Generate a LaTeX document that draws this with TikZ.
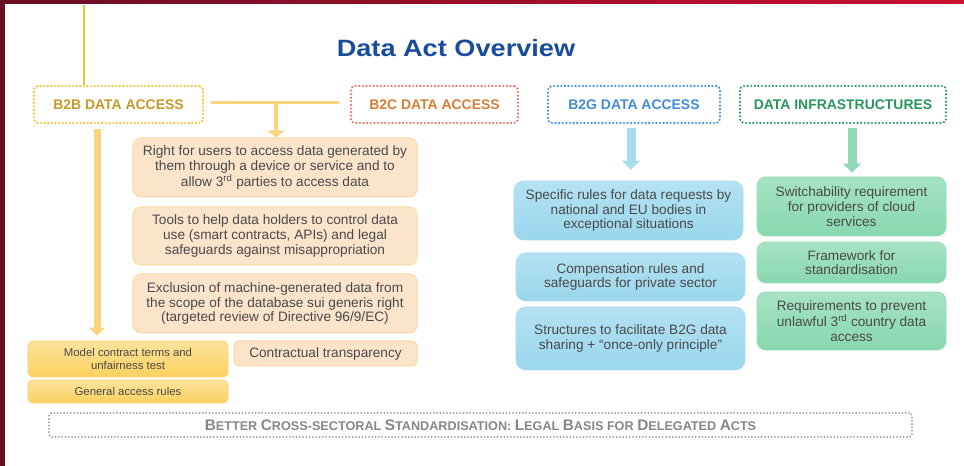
\documentclass[tikz,border=0pt]{standalone}
\usepackage{fontspec}
\setmainfont{Liberation Sans}
\newfontfamily\titlefam[FakeStretch=1.15]{Liberation Sans}
\usetikzlibrary{arrows.meta,calc}
\definecolor{frameA}{HTML}{6A0D22}
\definecolor{frameB}{HTML}{CC1030}
\definecolor{titleblue}{HTML}{1A4C9C}
\definecolor{bodytxt}{HTML}{4A4A4A}
\definecolor{ytxt}{HTML}{C49A28}
\definecolor{ybord}{HTML}{F6C12E}
\definecolor{ctxt}{HTML}{D67E34}
\definecolor{cbord}{HTML}{EE6F6A}
\definecolor{gtxt}{HTML}{438BD8}
\definecolor{gbord}{HTML}{3A8EE6}
\definecolor{itxt}{HTML}{27965F}
\definecolor{ibord}{HTML}{2A9960}
\definecolor{greytxt}{HTML}{878787}
\definecolor{greybord}{HTML}{9A9A9A}
\definecolor{ofill}{HTML}{FCE4CB}
\definecolor{obord}{HTML}{FBD9A3}
\definecolor{yfillA}{HTML}{FDE39C}
\definecolor{yfillB}{HTML}{FBD05E}
\definecolor{ybox}{HTML}{FBD36C}
\definecolor{bfillA}{HTML}{B3E2F3}
\definecolor{bfillB}{HTML}{9AD6EC}
\definecolor{bbord}{HTML}{A8DCF0}
\definecolor{gfillA}{HTML}{A6E3C4}
\definecolor{gfillB}{HTML}{88D7AF}
\definecolor{gbox}{HTML}{96DDB9}
\definecolor{yarrow}{HTML}{FCD47F}
\definecolor{barrow}{HTML}{A7DBEE}
\definecolor{garrow}{HTML}{8FDAB4}
\newcommand\myBody{\fontsize{13.7}{14.8}\selectfont}
\newcommand\mySmall{\fontsize{11.4}{13}\selectfont}
\newcommand\myHdr{\fontsize{14}{16}\selectfont\bfseries}
\newcommand\scw[2]{{\fontsize{15.4}{17}\selectfont #1}{\fontsize{12.7}{14}\selectfont #2}}
\begin{document}
\begin{tikzpicture}[x=1bp,y=-1bp,
  hdr/.style={draw, rounded corners=4bp, line width=2.4bp, dash pattern=on 0bp off 3.6bp, line cap=round, font=\myHdr, inner sep=0pt, minimum height=37bp},
  obox/.style={draw=obord, fill=ofill, line width=1bp, rounded corners=8bp, font=\myBody, text=bodytxt, align=center, inner sep=0pt},
  ybx/.style={draw=ybox, top color=yfillA, bottom color=yfillB, line width=0.8bp, rounded corners=5bp, font=\mySmall, text=bodytxt, align=center, inner sep=0pt, minimum width=200bp},
  bbox/.style={draw=bbord, top color=bfillA, bottom color=bfillB, line width=0.8bp, rounded corners=10bp, font=\myBody, text=bodytxt, align=center, inner sep=0pt, minimum width=229bp},
  gbx/.style={draw=gbox, top color=gfillA, bottom color=gfillB, line width=0.8bp, rounded corners=9bp, font=\myBody, text=bodytxt, align=center, inner sep=0pt, minimum width=189bp},
]
\useasboundingbox (0,0) rectangle (964,466);
\fill[white] (0,0) rectangle (964,466);
% frame
\fill[left color=frameA, right color=frameB] (0,0) rectangle (964,4);
\fill[frameA] (0,0) rectangle (5,466);

% title
\node[anchor=base, text=titleblue, font={\titlefam\bfseries\fontsize{23.7}{28}\selectfont}, inner sep=0pt] (title) at (456,57) {Data Act Overview};

% headers
\node[hdr, draw=ybord, text=ytxt, minimum width=169bp] (b2b) at (118.5,104.5) {B2B DATA ACCESS};
\node[hdr, draw=cbord, text=ctxt, minimum width=167bp] (b2c) at (434.5,104.5) {B2C DATA ACCESS};
\node[hdr, draw=gbord, text=gtxt, minimum width=172bp] (b2g) at (634,104.5) {B2G DATA ACCESS};
\node[hdr, draw=ibord, text=itxt, minimum width=206bp] (di) at (843,104.5) {DATA INFRASTRUCTURES};

% orange boxes
\node[obox, minimum width=284bp, minimum height=59bp] (o1) at (275,167.5) {Right for users to access data generated by\\them through a device or service and to\\allow 3\textsuperscript{rd} parties to access data};
\node[obox, minimum width=284bp, minimum height=58bp] (o2) at (275,236) {Tools to help data holders to control data\\use (smart contracts, APIs) and legal\\safeguards against misappropriation};
\node[obox, minimum width=284bp, minimum height=59bp] (o3) at (275,303.5) {Exclusion of machine-generated data from\\the scope of the database sui generis right\\(targeted review of Directive 96/9/EC)};
\node[obox, rounded corners=5bp, minimum width=183bp, minimum height=25bp] (o4) at (325.5,353.5) {Contractual transparency};

% yellow boxes
\node[ybx, minimum height=36bp] (y1) at (128,359) {Model contract terms and\\unfairness test};
\node[ybx, minimum height=23bp] (y2) at (128,391.5) {General access rules};

% blue boxes
\node[bbox, minimum height=59bp] (bl1) at (628.5,210.5) {Specific rules for data requests by\\national and EU bodies in\\exceptional situations};
\node[bbox, minimum height=48bp] (bl2) at (630.5,277) {Compensation rules and\\safeguards for private sector};
\node[bbox, minimum height=63bp] (bl3) at (630.5,338.5) {Structures to facilitate B2G data\\sharing + ``once-only principle''};

% green boxes
\node[gbx, minimum height=59bp] (g1) at (851.5,206.5) {Switchability requirement\\for providers of cloud\\services};
\node[gbx, minimum height=41bp] (g2) at (851.5,262.5) {Framework for\\standardisation};
\node[gbx, minimum height=58bp] (g3) at (851.5,321) {Requirements to prevent\\unlawful 3\textsuperscript{rd} country data\\access};

% bottom box
\node[draw=greybord, line width=2bp, dash pattern=on 0bp off 3.3bp, line cap=round, rounded corners=3bp, minimum width=863bp, minimum height=24bp, inner sep=0pt, text=greytxt, font=\bfseries\fontsize{12.7}{14}\selectfont] (bottom) at (480.5,425) {\scw{B}{ETTER} \scw{C}{ROSS-SECTORAL} \scw{S}{TANDARDISATION:} \scw{L}{EGAL} \scw{B}{ASIS} FOR \scw{D}{ELEGATED} \scw{A}{CTS}};

% connectors
\coordinate (topend) at (84,5);
\draw[ybord, line width=2bp] (topend) -- (topend |- b2b.north);
\draw[yarrow, line width=3.5bp] ([shift={(7,-2)}]b2b.east) -- ([shift={(-11,-2)}]b2c.west);
\coordinate (mid) at (276,102);
\draw[yarrow, line width=4bp, -{Triangle[width=17bp,length=7bp]}] (mid) -- (mid |- o1.north);
\coordinate (b2bbar) at (97,104.5);
\draw[yarrow, line width=7bp, -{Triangle[width=16bp,length=8bp]}, shorten <=5bp, shorten >=5bp] (b2bbar |- b2b.south) -- (b2bbar |- y1.north);
\coordinate (b2garr) at (631,104.5);
\draw[barrow, line width=9bp, -{Triangle[width=18bp,length=9bp]}, shorten <=4bp, shorten >=11bp] (b2garr |- b2g.south) -- (b2garr |- bl1.north);
\coordinate (diarr) at (852,104.5);
\draw[garrow, line width=9bp, -{Triangle[width=18bp,length=9bp]}, shorten <=4bp, shorten >=4bp] (diarr |- di.south) -- (diarr |- g1.north);
\end{tikzpicture}
\end{document}
